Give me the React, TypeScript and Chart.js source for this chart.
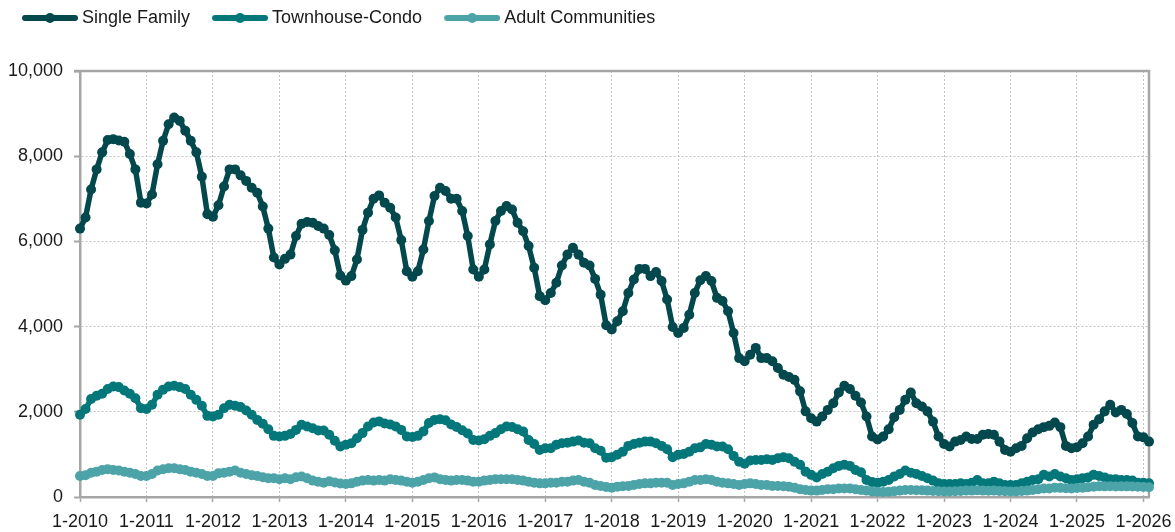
import React, { useEffect, useRef } from 'react';
import { Chart, registerables } from 'chart.js';

Chart.register(...registerables);

const FONT = '"Liberation Sans", Arial, Helvetica, sans-serif';
const TEXT_COLOR = '#1a1a1a';
const AXIS_COLOR = '#a6a6a6';
const GRID_COLOR = '#c4c4c4';

// Monthly categories 1-2010 .. 2-2026
const months: string[] = [];
for (let y = 2010; y <= 2026; y++) {
  for (let m = 1; m <= 12; m++) {
    if (y === 2026 && m > 2) break;
    months.push(`${m}-${y}`);
  }
}

const seriesNames = ['Single Family', 'Townhouse-Condo', 'Adult Communities'];
const seriesColors = ['#02484d', '#03777a', '#4ca3a8'];

const yTicks = [0, 2000, 4000, 6000, 8000, 10000];

const singleFamily = [
  6300, 6560, 7220, 7690, 8090, 8380, 8400, 8370, 8340, 8050, 7690, 6910,
  6890, 7100, 7810, 8360, 8750, 8910, 8830, 8600, 8360, 8090, 7520, 6640,
  6580, 6850, 7290, 7690, 7690, 7550, 7420, 7260, 7140, 6820, 6300, 5620,
  5460, 5590, 5690, 6125, 6415, 6455, 6440, 6360, 6300, 6150, 5790, 5200,
  5080, 5185, 5575, 6270, 6675, 7000, 7080, 6910, 6790, 6560, 6030, 5300,
  5170, 5300, 5810, 6480, 7065, 7260, 7185, 7000, 7000, 6715, 6125, 5340,
  5170, 5340, 5930, 6480, 6715, 6830, 6750, 6440, 6240, 5890, 5380, 4715,
  4620, 4790, 5030, 5435, 5690, 5850, 5690, 5500, 5435, 5120, 4750, 4030,
  3930, 4125, 4360, 4790, 5105, 5355, 5355, 5185, 5280, 5070, 4635, 3990,
  3850, 3970, 4280, 4790, 5090, 5185, 5070, 4675, 4600, 4360, 3850, 3260,
  3185, 3340, 3500, 3260, 3260, 3185, 3030, 2870, 2815, 2750, 2480, 2010,
  1850, 1770, 1890, 2045, 2200, 2455, 2610, 2535, 2375, 2220, 1890, 1420,
  1350, 1420, 1590, 1875, 2045, 2280, 2455, 2200, 2125, 2010, 1770, 1420,
  1245, 1185, 1300, 1340, 1420, 1360, 1360, 1460, 1480, 1460, 1300, 1105,
  1065, 1145, 1200, 1380, 1515, 1590, 1640, 1670, 1750, 1640, 1200, 1145,
  1170, 1260, 1420, 1695, 1825, 2010, 2165, 1985, 2045, 1950, 1735, 1420,
  1400, 1300,
];

const townhouseCondo = [
  1930, 2065, 2300, 2375, 2425, 2535, 2595, 2580, 2500, 2425, 2320, 2085,
  2065, 2165, 2400, 2520, 2595, 2610, 2580, 2535, 2400, 2280, 2140, 1905,
  1890, 1930, 2085, 2165, 2140, 2110, 2030, 1930, 1810, 1720, 1590, 1435,
  1420, 1435, 1480, 1575, 1695, 1655, 1615, 1560, 1560, 1460, 1320, 1185,
  1225, 1260, 1380, 1500, 1655, 1750, 1775, 1725, 1700, 1655, 1575, 1420,
  1410, 1435, 1540, 1735, 1810, 1825, 1800, 1700, 1645, 1565, 1490, 1340,
  1325, 1355, 1435, 1500, 1590, 1655, 1645, 1590, 1540, 1340, 1245, 1105,
  1145, 1145, 1225, 1260, 1275, 1300, 1325, 1275, 1260, 1145, 1085, 920,
  935, 990, 1065, 1200, 1245, 1275, 1300, 1300, 1260, 1200, 1120, 935,
  990, 1010, 1065, 1145, 1165, 1245, 1225, 1185, 1185, 1120, 965, 830,
  780, 855, 870, 870, 885, 870, 910, 935, 910, 830, 755, 595,
  520, 460, 540, 595, 675, 730, 755, 730, 635, 580, 400, 350,
  335, 360, 400, 480, 540, 620, 570, 540, 495, 440, 385, 320,
  305, 305, 305, 320, 305, 335, 400, 320, 320, 360, 320, 280,
  280, 280, 320, 360, 400, 415, 520, 480, 540, 480, 440, 400,
  415, 440, 460, 520, 495, 460, 415, 415, 400, 400, 385, 335,
  335, 320,
];

const adultCommunities = [
  495, 510, 570, 595, 635, 650, 635, 620, 595, 570, 540, 495,
  495, 540, 620, 650, 675, 675, 650, 635, 595, 570, 540, 495,
  495, 555, 570, 595, 620, 570, 540, 510, 495, 465, 440, 440,
  415, 440, 415, 465, 480, 440, 385, 360, 335, 370, 340, 315,
  305, 320, 360, 385, 400, 385, 400, 385, 415, 400, 385, 360,
  335, 360, 400, 440, 460, 415, 400, 385, 400, 400, 385, 360,
  360, 385, 400, 415, 415, 415, 415, 400, 385, 360, 335, 320,
  320, 335, 335, 360, 360, 385, 400, 360, 335, 280, 258, 235,
  220, 240, 255, 260, 280, 305, 320, 320, 335, 335, 335, 280,
  305, 320, 360, 400, 400, 415, 400, 360, 335, 320, 305, 280,
  305, 320, 305, 280, 280, 260, 260, 255, 240, 220, 180, 165,
  150, 150, 165, 180, 180, 200, 200, 200, 180, 165, 150, 130,
  125, 120, 125, 135, 150, 165, 165, 160, 160, 150, 140, 135,
  130, 130, 135, 140, 150, 150, 160, 150, 145, 150, 140, 135,
  130, 130, 140, 150, 165, 180, 200, 200, 220, 215, 205, 200,
  210, 220, 230, 240, 255, 250, 255, 245, 250, 250, 245, 240,
  235, 230,
];

const seriesData = [singleFamily, townhouseCondo, adultCommunities];

function makeMarker(color: string): HTMLCanvasElement {
  const c = document.createElement('canvas');
  c.width = 74;
  c.height = 14;
  const g = c.getContext('2d')!;
  g.strokeStyle = color;
  g.lineWidth = 6;
  g.lineCap = 'round';
  g.beginPath();
  g.moveTo(21, 7);
  g.lineTo(71, 7);
  g.stroke();
  g.fillStyle = color;
  g.beginPath();
  g.arc(46, 7, 5, 0, Math.PI * 2);
  g.fill();
  return c;
}

const legendSpacer = {
  id: 'legendSpacer',
  beforeInit(chart: any) {
    const legend = chart.legend;
    if (!legend) return;
    const orig = legend.fit;
    legend.fit = function () {
      orig.call(this);
      this.height += 34;
    };
  },
};

const plotFrame = {
  id: 'plotFrame',
  beforeDatasetsDraw(chart: any) {
    const { ctx, chartArea } = chart;
    const { left, right, top, bottom } = chartArea;
    ctx.save();
    ctx.strokeStyle = AXIS_COLOR;
    ctx.lineWidth = 2.5;
    ctx.beginPath();
    ctx.moveTo(left - 6, top);
    ctx.lineTo(right, top);
    ctx.lineTo(right, bottom);
    ctx.stroke();
    ctx.restore();
  },
};

export default function App() {
  const ref = useRef<HTMLCanvasElement>(null);

  useEffect(() => {
    if (!ref.current) return;
    const markers = seriesColors.map(makeMarker);
    const chart = new Chart(ref.current, {
      type: 'line',
      data: {
        labels: months,
        datasets: seriesNames.map((name, i) => ({
          label: name,
          data: seriesData[i],
          borderColor: seriesColors[i],
          backgroundColor: seriesColors[i],
          pointBackgroundColor: seriesColors[i],
          pointBorderWidth: 0,
          pointRadius: 5,
          pointHoverRadius: 5,
          borderWidth: 5.5,
          borderJoinStyle: 'round' as const,
          borderCapStyle: 'round' as const,
          tension: 0,
          fill: false,
          order: 3 - i,
        })),
      },
      options: {
        animation: false,
        responsive: true,
        maintainAspectRatio: false,
        events: [],
        layout: { padding: { left: 0, right: 26, top: 0, bottom: 0 } },
        plugins: {
          tooltip: { enabled: false },
          legend: {
            display: true,
            position: 'top',
            align: 'start',
            labels: {
              usePointStyle: true,
              pointStyleWidth: 64,
              padding: 9,
              color: TEXT_COLOR,
              font: { family: FONT, size: 18 },
              generateLabels: () =>
                seriesNames.map((name, i) => ({
                  text: name,
                  fillStyle: seriesColors[i],
                  strokeStyle: seriesColors[i],
                  lineWidth: 0,
                  pointStyle: markers[i] as any,
                  hidden: false,
                  datasetIndex: i,
                  fontColor: TEXT_COLOR,
                })),
            },
          },
        },
        scales: {
          x: {
            type: 'category',
            offset: false,
            ticks: {
              autoSkip: false,
              maxRotation: 0,
              minRotation: 0,
              padding: 9,
              color: TEXT_COLOR,
              font: { family: FONT, size: 18 },
              callback: (_v: any, i: number) => (i % 12 === 0 ? months[i] : ''),
            },
            grid: {
              color: GRID_COLOR,
              lineWidth: (c: any) => (c.index % 12 === 0 ? 1 : 0),
              drawTicks: true,
              tickLength: 5,
              tickColor: AXIS_COLOR,
              tickWidth: (c: any) => (c.index % 12 === 0 ? 1.5 : 0),
              tickBorderDash: [],
            },
            border: { display: true, color: AXIS_COLOR, width: 2.5, dash: [2, 2] },
            afterFit: (s: any) => {
              s.height = 35;
            },
          },
          y: {
            min: 0,
            max: 10000,
            afterBuildTicks: (s: any) => {
              s.ticks = yTicks.map((v) => ({ value: v }));
            },
            ticks: {
              padding: 11,
              color: TEXT_COLOR,
              font: { family: FONT, size: 18 },
              callback: (v: any) => Number(v).toLocaleString('en-US'),
            },
            grid: {
              color: GRID_COLOR,
              lineWidth: 1,
              drawTicks: true,
              tickLength: 6,
              tickColor: AXIS_COLOR,
              tickWidth: 2,
              tickBorderDash: [],
            },
            border: { display: true, color: AXIS_COLOR, width: 2.5, dash: [2, 2] },
            afterFit: (s: any) => {
              s.width = 80;
            },
          },
        },
      },
      plugins: [legendSpacer, plotFrame],
    } as any);
    return () => chart.destroy();
  }, []);

  return (
    <div style={{ position: 'absolute', left: 0, top: 0, width: 1175, height: 532 }}>
      <canvas ref={ref} />
    </div>
  );
}
